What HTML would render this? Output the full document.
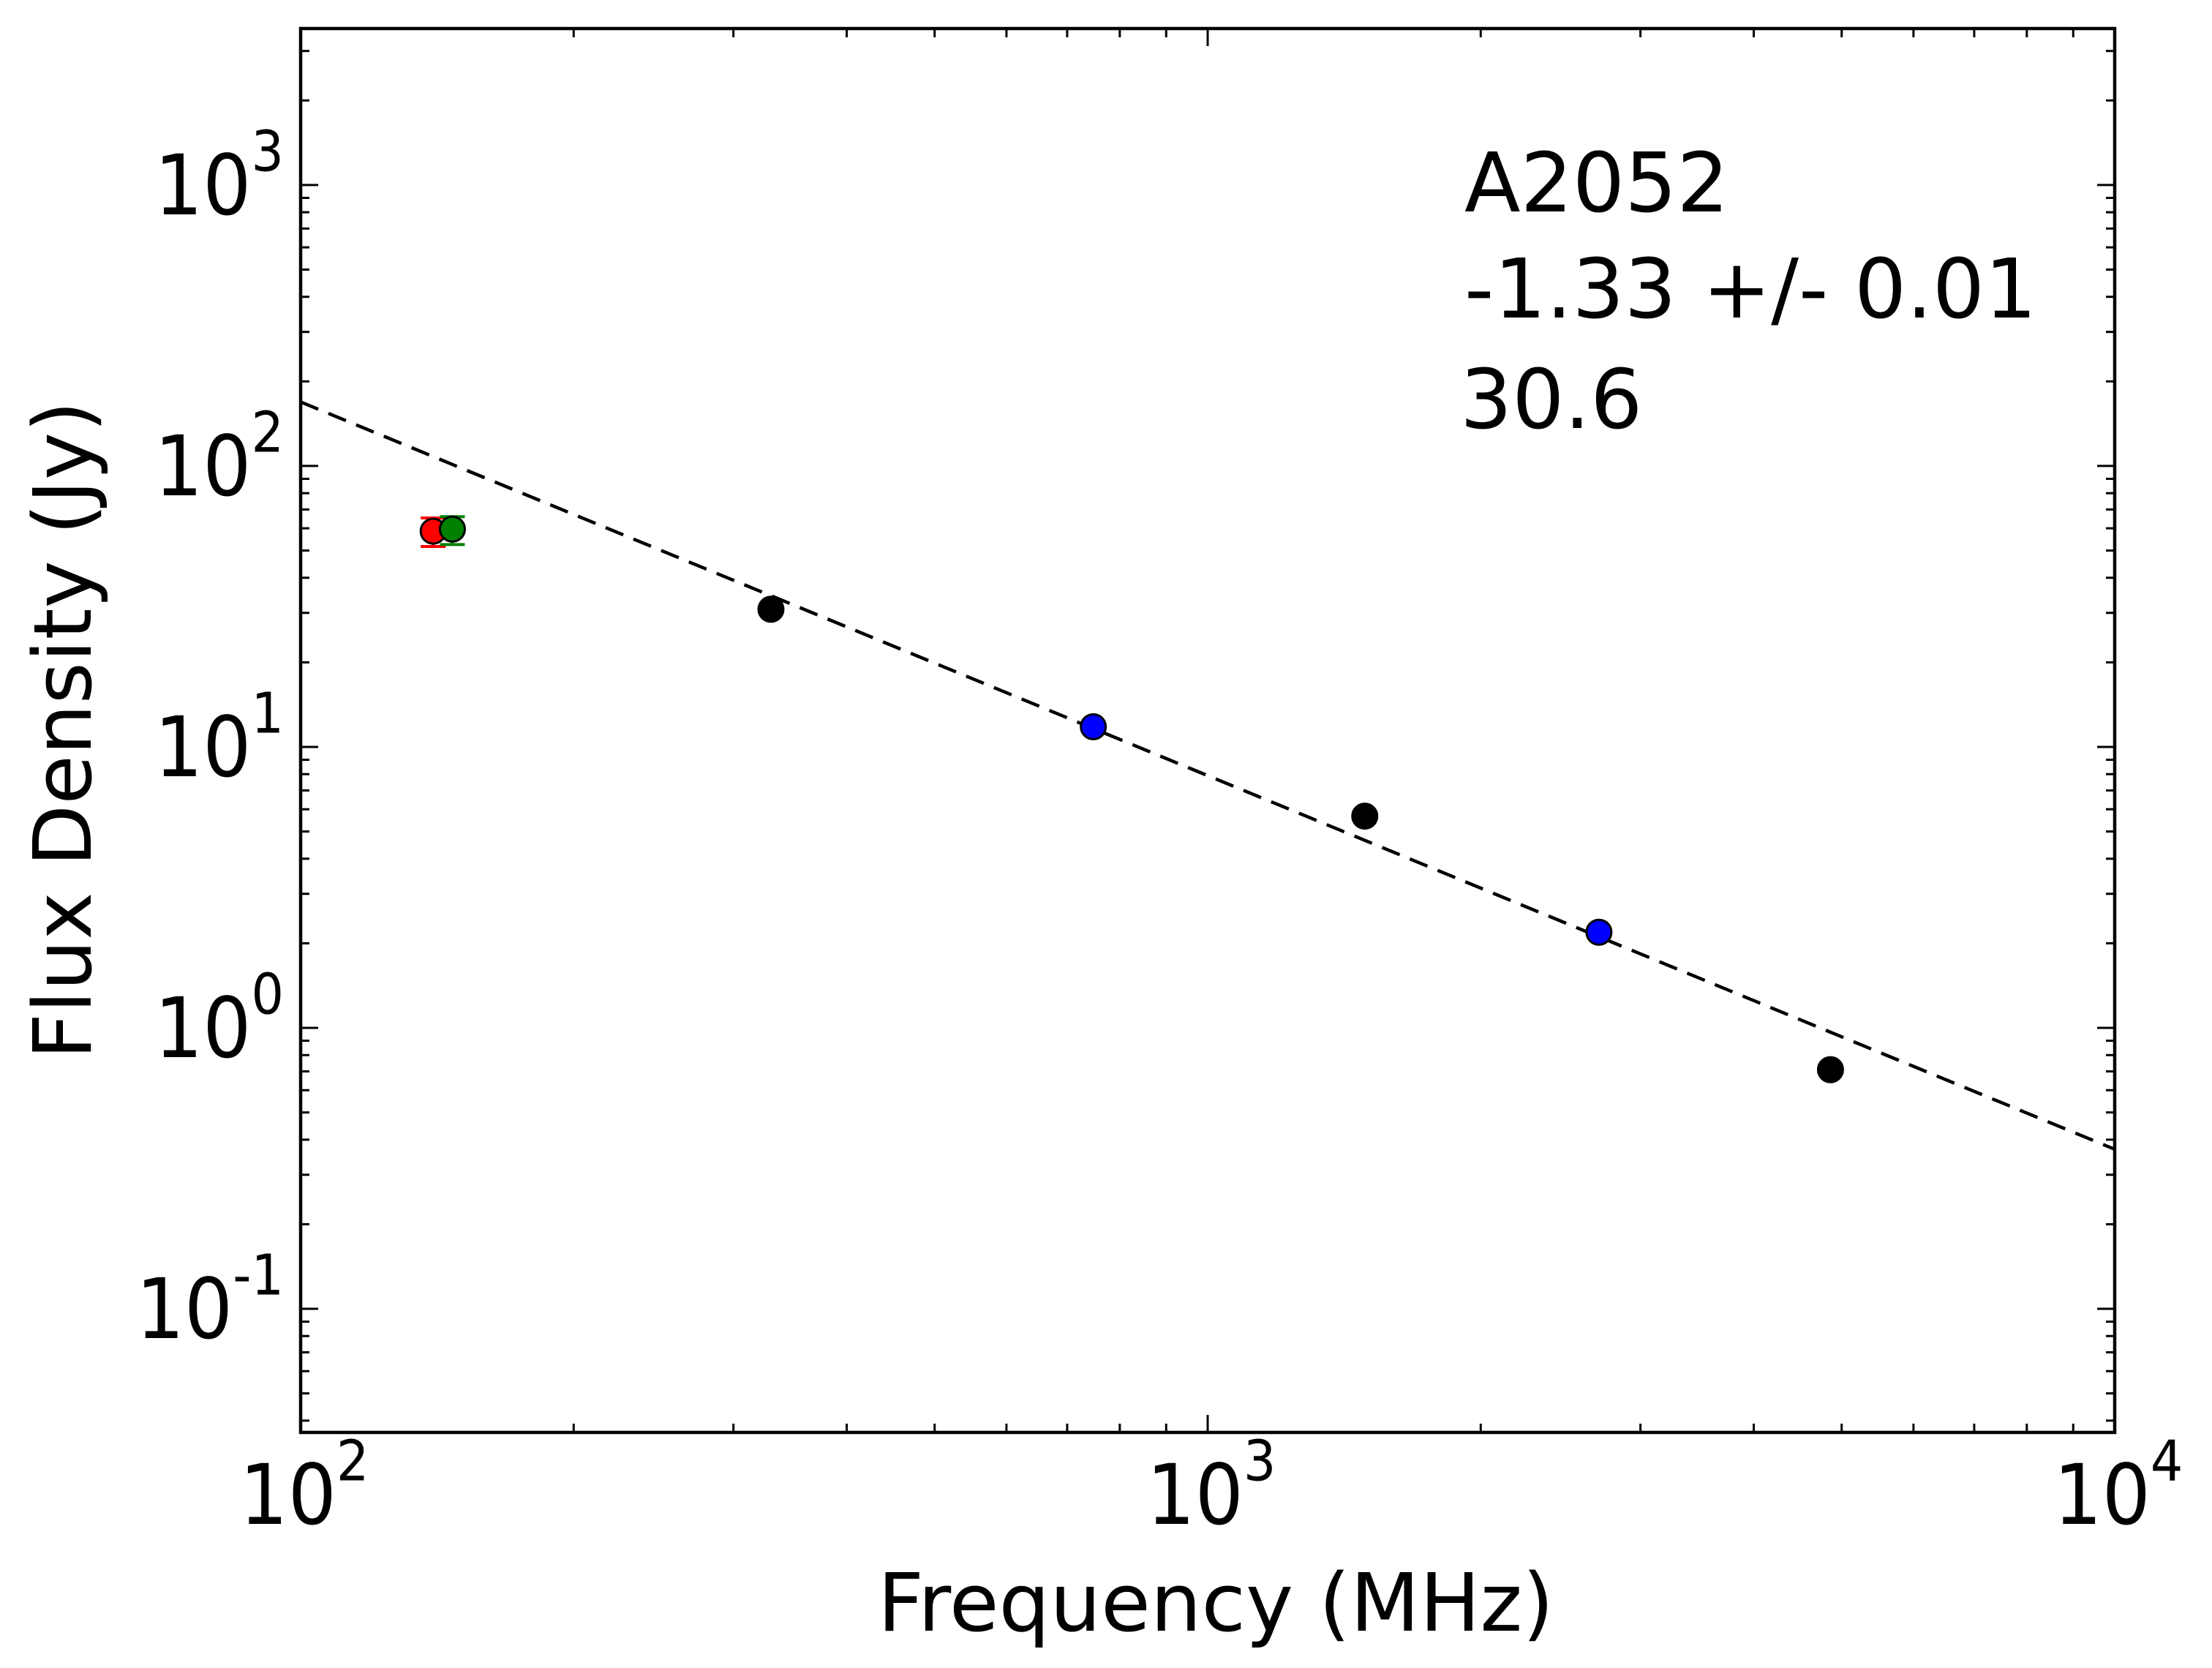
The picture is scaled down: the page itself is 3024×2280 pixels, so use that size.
<!DOCTYPE html>
<html><head><meta charset="utf-8"><style>
html,body{margin:0;padding:0;background:#fff;}
svg{display:block;font-family:"DejaVu Sans","Liberation Sans",sans-serif;}
</style></head><body>
<svg id="chart" width="3024" height="2280" viewBox="0 0 3024 2280" xmlns="http://www.w3.org/2000/svg">
<rect width="3024" height="2280" fill="#fff"/>
<g id="marks"></g>
<g id="axes"></g>
<text x="2002" y="289" font-size="112">A2052</text>
<text x="2002" y="434" font-size="112">-1.33 +/- 0.01</text>
<text x="1996" y="585" font-size="112">30.6</text>
<text x="1662" y="2229" font-size="110" text-anchor="middle">Frequency (MHz)</text>
<text x="0" y="0" font-size="110" text-anchor="middle" transform="translate(124,998) rotate(-90)">Flux Density (Jy)</text>
</svg>
<script>
const freqs = [140, 147, 330, 748, 1490, 2700, 4860];
const fluxes = [58.6, 59.6, 30.9, 11.8, 5.67, 2.19, 0.71];
const errLo = [51.7, 52.5, 0, 0, 0, 0, 0];
const errHi = [65.3, 66.0, 0, 0, 0, 0, 0];
const colors = ['#ff0000', '#008000', '#000000', '#0000ff', '#000000', '#0000ff', '#000000'];
const fitSlope = -1.33;
const fitAt100 = 169;
const xTicks = [2, 3, 4];
const yTicks = [-1, 0, 1, 2, 3];

const L = 411, R = 2891, T = 39, B = 1958;
const xMin = 2, xMax = 4, yMin = -1.44, yMax = 3.557;
const X = v => L + (Math.log10(v) - xMin) / (xMax - xMin) * (R - L);
const Y = v => B - (Math.log10(v) - yMin) / (yMax - yMin) * (B - T);
const NS = 'http://www.w3.org/2000/svg';
const marks = document.getElementById('marks');
const axes = document.getElementById('axes');
function mk(tag, attrs, parent) {
  const e = document.createElementNS(NS, tag);
  for (const k in attrs) e.setAttribute(k, attrs[k]);
  parent.appendChild(e);
  return e;
}
const fx0 = 100, fx1 = 10000;
const fy0 = fitAt100, fy1 = fitAt100 * Math.pow(fx1 / fx0, fitSlope);
const fit = mk('line', {x1: X(fx0), y1: Y(fy0), x2: X(fx1), y2: Y(fy1), stroke: '#000', 'stroke-width': 4.5, 'stroke-dasharray': '26 15'}, marks);


freqs.forEach((f, i) => {
  if (errHi[i] > 0) {
    const g = mk('g', {stroke: colors[i], 'stroke-width': 4}, marks);
    
    
    mk('line', {x1: X(f), x2: X(f), y1: Y(errLo[i]), y2: Y(errHi[i])}, g);
    mk('line', {x1: X(f) - 17, x2: X(f) + 17, y1: Y(errLo[i]), y2: Y(errLo[i])}, g);
    mk('line', {x1: X(f) - 17, x2: X(f) + 17, y1: Y(errHi[i]), y2: Y(errHi[i])}, g);
  }
});
freqs.forEach((f, i) => {
  const c = mk('circle', {cx: X(f), cy: Y(fluxes[i]), r: 17, fill: colors[i], stroke: '#000', 'stroke-width': 3}, marks);
  
  
});
const fr = mk('rect', {x: L, y: T, width: R - L, height: B - T, fill: 'none', stroke: '#000', 'stroke-width': 4.5}, axes);


const tg = mk('g', {stroke: '#000', 'stroke-width': 3}, axes);


for (let d = xMin; d < xMax + 1; d++) {
  for (let m = 1; m <= 9; m++) {
    const v = m * Math.pow(10, d);
    const lv = Math.log10(v);
    if (lv < xMin - 1e-9 || lv > xMax + 1e-9) continue;
    const len = m === 1 ? 24 : 12, x = X(v);
    mk('line', {x1: x, x2: x, y1: B, y2: B - len}, tg);
    mk('line', {x1: x, x2: x, y1: T, y2: T + len}, tg);
  }
}
for (let d = -2; d <= 4; d++) {
  for (let m = 1; m <= 9; m++) {
    const v = m * Math.pow(10, d);
    const lv = Math.log10(v);
    if (lv < yMin || lv > yMax) continue;
    const len = m === 1 ? 24 : 12, y = Y(v);
    mk('line', {x1: L, x2: L + len, y1: y, y2: y}, tg);
    mk('line', {x1: R, x2: R - len, y1: y, y2: y}, tg);
  }
}
function tickLabel(k, x, y, anchor, name) {
  const t = mk('text', {x: 0, y: 0, 'font-size': 104, 'text-anchor': anchor, transform: 'translate(' + x + ',' + y + ') scale(1,1.1)'}, axes);
  
  
  const a = mk('tspan', {}, t); a.textContent = '10';
  const b = mk('tspan', {dy: -54, 'font-size': 70}, t); b.textContent = String(k);
}
xTicks.forEach(k => tickLabel(k, X(Math.pow(10, k)) + 5, 2083, 'middle', 'x-tick-label'));
yTicks.forEach(k => tickLabel(k, 388, Y(Math.pow(10, k)) + 40, 'end', 'y-tick-label'));
</script>
</body></html>
